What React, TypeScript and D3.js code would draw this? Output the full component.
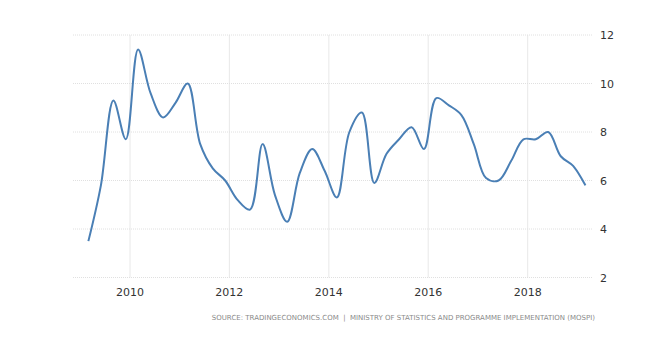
import React, { useEffect, useRef } from 'react';
import * as d3 from 'd3';

// quarterly GDP growth, first day of quarter-end month (Mar 2009 .. Mar 2019)
const startYear = 2009;
const values: number[] = [
  3.5, 5.8, 9.3, 7.7, 11.4, 9.6, 8.6, 9.2, 10.0, 7.5, 6.5, 6.0,
  5.2, 4.8, 7.5, 5.4, 4.3, 6.3, 7.3, 6.4, 5.3, 8.0, 8.8, 5.9,
  7.1, 7.7, 8.2, 7.3, 9.4, 9.1, 8.7, 7.5, 6.1, 6.0, 6.8, 7.7,
  7.7, 8.0, 7.0, 6.6, 5.8,
];
const yTicks = [2, 4, 6, 8, 10, 12];
const xTickYears = [2010, 2012, 2014, 2016, 2018];
const source =
  'SOURCE: TRADINGECONOMICS.COM  |  MINISTRY OF STATISTICS AND PROGRAMME IMPLEMENTATION (MOSPI)';

const App: React.FC = () => {
  const svgRef = useRef<SVGSVGElement | null>(null);

  useEffect(() => {
    const svg = d3.select(svgRef.current);
    svg.selectAll('*').remove();

    const data = values.map((v, i) => ({
      date: new Date(startYear + Math.floor(i / 4), 2 + (i % 4) * 3, 1),
      value: v,
    }));

    const x = d3
      .scaleTime()
      .domain([new Date(2008, 10, 8), new Date(2019, 3, 26)])
      .range([65, 585]);

    const y = d3.scaleLinear().domain([2, 12]).range([269.5, 27]);

    const g = svg.append('g');

    // vertical grid
    g.selectAll('line.vg')
      .data(xTickYears)
      .enter()
      .append('line')
      .attr('x1', (d) => x(new Date(d, 0, 1)))
      .attr('x2', (d) => x(new Date(d, 0, 1)))
      .attr('y1', y(12))
      .attr('y2', y(2))
      .attr('stroke', '#e8e8e8')
      .attr('stroke-width', 1);

    // horizontal grid (dotted)
    g.selectAll('line.hg')
      .data(yTicks)
      .enter()
      .append('line')
      .attr('x1', x.range()[0])
      .attr('x2', x.range()[1])
      .attr('y1', (d) => y(d))
      .attr('y2', (d) => y(d))
      .attr('stroke', '#e0e0e0')
      .attr('stroke-dasharray', '1,1')
      .attr('stroke-width', 1);

    // y labels on the right
    g.selectAll('text.yl')
      .data(yTicks)
      .enter()
      .append('text')
      .attr('x', x.range()[1] + 7)
      .attr('y', (d) => y(d) + 4)
      .attr('font-family', 'Verdana, DejaVu Sans, sans-serif')
      .attr('font-size', 11)
      .attr('fill', '#333')
      .text((d) => d);

    // x labels
    g.selectAll('text.xl')
      .data(xTickYears)
      .enter()
      .append('text')
      .attr('x', (d) => x(new Date(d, 0, 1)))
      .attr('y', y(2) + 18)
      .attr('text-anchor', 'middle')
      .attr('font-family', 'Verdana, DejaVu Sans, sans-serif')
      .attr('font-size', 11)
      .attr('fill', '#333')
      .text((d) => d);

    const line = d3
      .line<{ date: Date; value: number }>()
      .x((d) => x(d.date))
      .y((d) => y(d.value))
      .curve(d3.curveCatmullRom.alpha(0.5));

    g.append('path')
      .datum(data)
      .attr('fill', 'none')
      .attr('stroke', '#4a7fb5')
      .attr('stroke-width', 2)
      .attr('d', line);

    g.append('text')
      .attr('x', 587)
      .attr('y', 312)
      .attr('text-anchor', 'end')
      .attr('font-family', 'Verdana, DejaVu Sans, sans-serif')
      .attr('font-size', 7)
      .attr('fill', '#8a8a8a')
      .attr('xml:space', 'preserve')
      .style('white-space', 'pre')
      .text(source);
  }, []);

  return <svg ref={svgRef} width={636} height={348} style={{ display: 'block' }}></svg>;
};

export default App;
